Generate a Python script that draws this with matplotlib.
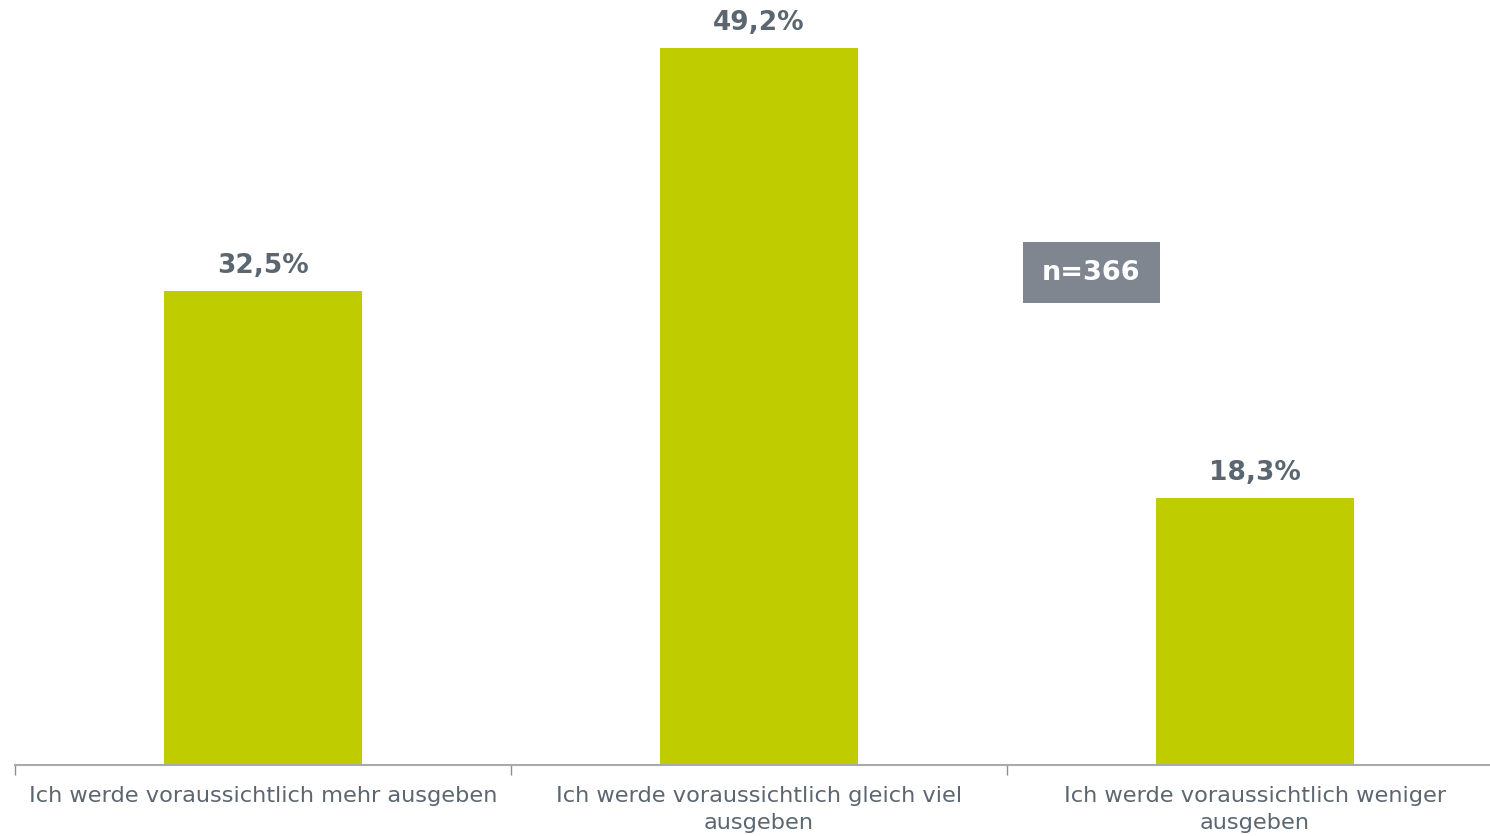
import matplotlib.pyplot as plt
from matplotlib.patches import Rectangle

categories = ['Ich werde voraussichtlich mehr ausgeben',
              'Ich werde voraussichtlich gleich viel\nausgeben',
              'Ich werde voraussichtlich weniger\nausgeben']
values = [32.5, 49.2, 18.3]
value_labels = ['32,5%', '49,2%', '18,3%']

bar_color = '#bfcd00'
text_color = '#5b6670'

fig = plt.figure(figsize=(14.9, 8.36), dpi=100)
ax = fig.add_axes([15 / 1490, 1 - 765 / 836, 1488 / 1490, 765 / 836])

x = range(len(categories))
ax.bar(x, values, width=0.4, color=bar_color)
ax.set_xlim(-0.5, 2.5)
ax.set_ylim(0, 765 / 14.57)

for i, (v, lab) in enumerate(zip(values, value_labels)):
    ax.annotate(lab, (i, v), xytext=(0, 9), textcoords='offset points',
                ha='center', va='bottom', fontsize=19, fontweight='bold',
                color=text_color)

for i, cat in enumerate(categories):
    ax.annotate(cat, (i, 0), xytext=(0, -15), textcoords='offset points',
                ha='center', va='top', fontsize=16.2, color=text_color,
                linespacing=1.45)

for s in ['top', 'right', 'left']:
    ax.spines[s].set_visible(False)
ax.spines['bottom'].set_color('#a6abb0')
ax.spines['bottom'].set_linewidth(1.5)
ax.set_yticks([])
ax.set_xticks([-0.5, 0.5, 1.5, 2.5])
ax.set_xticklabels([])
ax.tick_params(axis='x', length=7, width=1, color='#8a9096')

fig.patches.append(Rectangle((1023 / 1490, 1 - 303 / 836), 137 / 1490, 61 / 836,
                             transform=fig.transFigure, facecolor='#7f8690',
                             edgecolor='none'))
fig.text(1091 / 1490, 1 - 273 / 836, 'n=366', ha='center', va='center',
         fontsize=19.5, fontweight='bold', color='white')

fig.savefig('out.png', dpi=100)
